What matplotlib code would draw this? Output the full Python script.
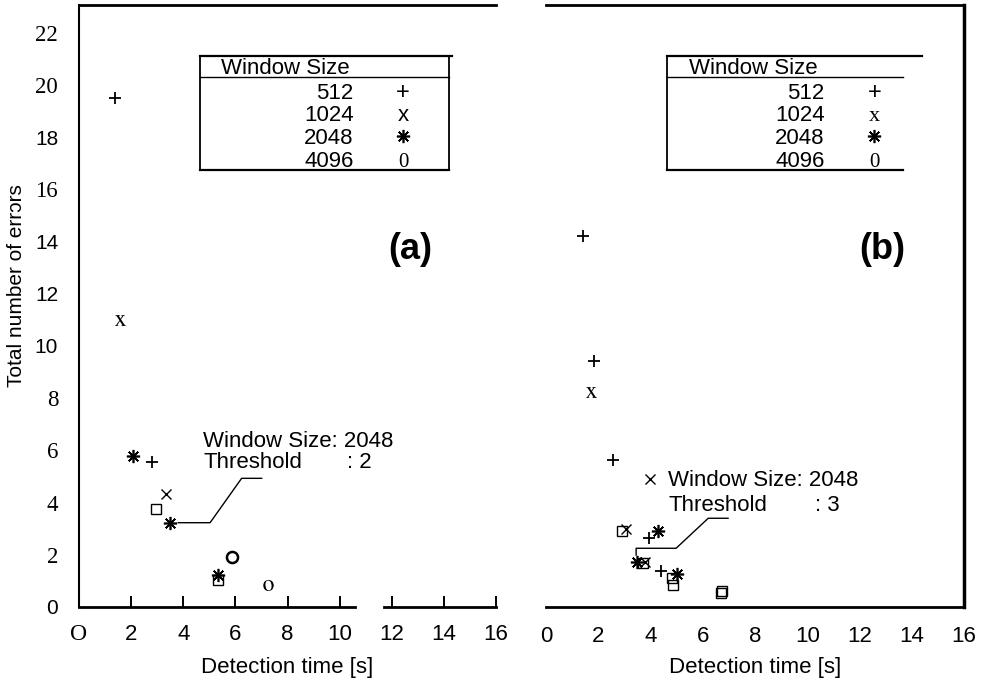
import numpy as np
import matplotlib.pyplot as plt

plt.rcParams['font.family'] = ['Liberation Sans', 'DejaVu Sans']
plt.rcParams['mathtext.fontset'] = 'stix'

SANS = ['Liberation Sans', 'DejaVu Sans']
SERIF = ['Liberation Serif', 'DejaVu Serif']

# ---- data, panel (a): threshold 2 ----
a512_x = [1.38, 2.82]
a512_y = [19.5, 5.54]
a1024_x = [1.58, 3.35]
a1024_y = [11.0, 4.33]
a1024_kind = ['serif_x', 'cross']
a2048_x = [2.08, 3.49, 5.35]
a2048_y = [5.80, 3.23, 1.22]
a4096_x = [2.94, 5.35, 5.88, 7.24]
a4096_y = [3.75, 1.05, 1.93, 0.84]
a4096_kind = ['square', 'square', 'circle', 'serif_o']

# ---- data, panel (b): threshold 3 ----
b512_x = [1.42, 1.84, 2.57, 3.96, 4.40]
b512_y = [14.2, 9.43, 5.63, 2.63, 1.39]
b1024_x = [1.72, 3.98, 3.08, 3.78]
b1024_y = [8.24, 4.90, 3.00, 1.72]
b1024_kind = ['serif_x', 'cross', 'cross', 'cross']
b2048_x = [4.30, 3.47, 5.03]
b2048_y = [2.92, 1.74, 1.27]
b4096_x = [2.90, 3.72, 4.82, 4.85, 6.68, 6.74]
b4096_y = [2.93, 1.70, 1.10, 0.84, 0.53, 0.60]
b4096_kind = ['square'] * 6

window_sizes = ['512', '1024', '2048', '4096']

x_ticks = list(range(0, 17, 2))
xa_labels = ['O', '2', '4', '6', '8', '10', '12', '14', '16']
xb_labels = [str(v) for v in x_ticks]
y_ticks = list(range(0, 23, 2))
y_labels = [str(v) for v in y_ticks]
# the scanned original mixes typefaces on the y axis
y_label_serif = [False, True, True, True, True, False, False, False, True, False, True, True]

STYLES = {
    'plus':    dict(marker='+', ms=8.5, mew=1.3),
    'cross':   dict(marker='x', ms=7.5, mew=1.0),
    'serif_x': dict(marker=r'$\mathrm{x}$', ms=8, mew=0),
    'star':    dict(marker=(8, 2, 0), ms=9.5, mew=1.2),
    'square':  dict(marker='s', ms=7, mew=1.0, mfc='none'),
    'circle':  dict(marker='o', ms=8, mew=1.8, mfc='none'),
    'serif_o': dict(marker=r'$\mathrm{o}$', ms=8, mew=0),
}


def scatter(ax, xs, ys, kinds):
    for x, y, k in zip(xs, ys, kinds):
        ax.plot([x], [y], ls='none', color='k', mec='k', clip_on=False, **STYLES[k])


def legend_table(ax, right, right_top, closed, sym_x, syms):
    left, top, head, bottom = 4.64, 21.13, 20.32, 16.74
    base = [19.47, 18.61, 17.75, 16.85]
    ax.plot([left, right_top], [top, top], color='k', lw=1.6)
    ax.plot([left, right], [head, head], color='k', lw=1.0)
    ax.plot([left, right], [bottom, bottom], color='k', lw=1.6)
    ax.plot([left, left], [bottom, top], color='k', lw=1.3)
    if closed:
        ax.plot([right, right], [bottom, top], color='k', lw=1.3)
    ax.text(left + 0.82, 20.42, 'Window Size', ha='left', va='baseline', fontsize=16)
    for lab, (s, fam, size), y in zip(window_sizes, syms, base):
        ax.text(sym_x - 1.9, y, lab, ha='right', va='baseline', fontsize=16)
        if s == 'star':
            ax.plot([sym_x], [y + 0.3], ls='none', color='k', **STYLES['star'])
        else:
            ax.text(sym_x, y, s, ha='center', va='baseline', fontsize=size,
                    family=fam)


fig = plt.figure(figsize=(9.83, 6.84), dpi=100)
axA = fig.add_axes([79 / 983, 77 / 684, 417 / 983, 602 / 684])
axB = fig.add_axes([546 / 983, 77 / 684, 418 / 983, 602 / 684])
ymax = 602 / 26.1

for ax in (axA, axB):
    ax.set_xlim(0, 16)
    ax.set_ylim(0, ymax)

# ---- panel (a) ----
axA.spines['right'].set_visible(False)
axA.spines['bottom'].set_visible(False)
axA.spines['top'].set_linewidth(2.0)
axA.spines['left'].set_linewidth(1.5)
# broken x axis line
axA.plot([0, 10.6], [0, 0], color='k', lw=2.0, clip_on=False)
axA.plot([11.7, 16], [0, 0], color='k', lw=2.0, clip_on=False)

axA.set_xticks(x_ticks)
axA.set_xticklabels(xa_labels)
axA.tick_params(axis='x', direction='in', length=8, width=1.4, pad=12, labelsize=16)
axA.xaxis.get_major_ticks()[0].tick1line.set_visible(False)
axA.get_xticklabels()[0].set_family(SERIF)
axA.get_xticklabels()[0].set_fontsize(17)
axA.set_yticks(y_ticks)
axA.set_yticklabels(y_labels)
axA.tick_params(axis='y', length=0, pad=15, labelsize=15)
for lab, serif in zip(axA.get_yticklabels(), y_label_serif):
    lab.set_family(SERIF if serif else SANS)
    if serif:
        lab.set_fontsize(16.5)

scatter(axA, a512_x, a512_y, ['plus'] * len(a512_x))
scatter(axA, a1024_x, a1024_y, a1024_kind)
scatter(axA, a2048_x, a2048_y, ['star'] * len(a2048_x))
scatter(axA, a4096_x, a4096_y, a4096_kind)

axA.plot([3.81, 5.03, 6.24, 7.01], [3.23, 3.23, 4.93, 4.93], color='k', lw=1.0)
axA.text(4.76, 6.14, 'Window Size: 2048', fontsize=16, va='baseline')
axA.text(4.76, 5.34, 'Threshold', fontsize=16, va='baseline')
axA.text(10.28, 5.34, ': 2', fontsize=16, va='baseline')

legend_table(axA, 14.2, 14.3, True, 12.43,
             [('+', SANS, 17), ('x', SANS, 16), ('star', None, 0), ('0', SERIF, 15)])
axA.text(12.7, 13.68, '(a)', fontsize=26, fontweight='bold', ha='center', va='center')

# ---- panel (b) ----
axB.spines['left'].set_visible(False)
axB.spines['top'].set_linewidth(2.0)
axB.spines['right'].set_linewidth(2.5)
axB.spines['bottom'].set_linewidth(2.0)
axB.set_yticks([])
axB.set_xticks(x_ticks)
axB.set_xticklabels(xb_labels)
axB.tick_params(axis='x', length=0, pad=14, labelsize=16)

scatter(axB, b512_x, b512_y, ['plus'] * len(b512_x))
scatter(axB, b1024_x, b1024_y, b1024_kind)
scatter(axB, b2048_x, b2048_y, ['star'] * len(b2048_x))
scatter(axB, b4096_x, b4096_y, b4096_kind)

axB.plot([3.45, 3.45, 4.98, 6.21, 6.97], [1.99, 2.25, 2.25, 3.40, 3.40], color='k', lw=1.0)
axB.text(4.67, 4.65, 'Window Size: 2048', fontsize=16, va='baseline')
axB.text(4.67, 3.69, 'Threshold', fontsize=16, va='baseline')
axB.text(10.3, 3.69, ': 3', fontsize=16, va='baseline')

legend_table(axB, 13.68, 14.4, False, 12.57,
             [('+', SANS, 17), ('x', SERIF, 16), ('star', None, 0), ('0', SERIF, 15)])
axB.text(12.87, 13.68, '(b)', fontsize=26, fontweight='bold', ha='center', va='center')

# ---- axis titles ----
fig.text(17 / 983, 1 - 286 / 684, 'Total number of err\u0254rs', rotation=90,
         ha='center', va='center', fontsize=15)
fig.text(287 / 983, 1 - 668 / 684, 'Detection time [s]', ha='center', va='center', fontsize=16)
fig.text(755 / 983, 1 - 668 / 684, 'Detection time [s]', ha='center', va='center', fontsize=16)

fig.savefig('out.png', dpi=100)
